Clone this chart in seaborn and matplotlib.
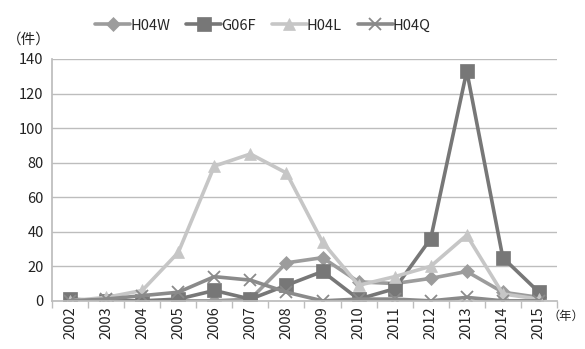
import numpy as np
import pandas as pd
import matplotlib
matplotlib.use("Agg")
import matplotlib.pyplot as plt
import seaborn as sns

years = [2002, 2003, 2004, 2005, 2006, 2007, 2008, 2009, 2010, 2011, 2012, 2013, 2014, 2015]
h04w = [0, 0, 0, 0, 0, 1, 22, 25, 11, 10, 13, 17, 5, 2]
g06f = [1, 0, 0, 1, 6, 1, 9, 17, 1, 7, 36, 133, 25, 5]
h04l = [0, 2, 6, 28, 78, 85, 74, 34, 9, 14, 20, 38, 4, 1]
h04q = [0, 1, 3, 5, 14, 12, 5, 0, 1, 1, 0, 2, 0, 0]

series_names = ["H04W", "G06F", "H04L", "H04Q"]
series_values = [h04w, g06f, h04l, h04q]
colors = ["#9c9c9c", "#777777", "#c6c6c6", "#8a8a8a"]
markers = ["D", "s", "^", "x"]
msizes = [7, 10, 9, 9]

sns.set_theme(style="white")
plt.rcParams["font.family"] = ["Noto Sans CJK JP", "DejaVu Sans"]

rows = []
for name, vals in zip(series_names, series_values):
    for i, v in enumerate(vals):
        rows.append({"pos": i, "year": years[i], "series": name, "value": v})
df = pd.DataFrame(rows)

fig = plt.figure(figsize=(5.85, 3.49), dpi=100)
ax = fig.add_axes([0.089, 0.138, 0.863, 0.693])

for name, col, mk, ms in zip(series_names, colors, markers, msizes):
    sub = df[df["series"] == name]
    sns.lineplot(data=sub, x="pos", y="value", ax=ax, color=col, linewidth=2.6,
                 marker=mk, markersize=ms, markeredgecolor=col,
                 markeredgewidth=1.3 if mk == "x" else 0.5, label=name)

ax.set_xlim(-0.5, len(years) - 0.5)
ax.set_ylim(0, 140)
ax.set_yticks(np.arange(0, 141, 20))
ax.yaxis.grid(True, color="#bdbdbd", linewidth=1)
ax.set_axisbelow(True)
ax.set_xticks(range(len(years)))
ax.set_xticklabels([str(y) for y in years], rotation=90, fontsize=10.5, color="#222222")
ax.set_xticks(np.arange(-0.5, len(years), 1), minor=True)
ax.tick_params(axis="x", which="major", length=0, pad=4)
ax.tick_params(axis="x", which="minor", length=5, color="#bdbdbd", width=1, direction="out", bottom=True)
ax.tick_params(axis="y", length=0, labelsize=10.5, labelcolor="#222222", pad=6)
ax.set_xlabel("")
ax.set_ylabel("")
for s in ["top", "right"]:
    ax.spines[s].set_visible(False)
ax.spines["left"].set_color("#bdbdbd")
ax.spines["bottom"].set_color("#bdbdbd")

ax.legend(loc="lower center", bbox_to_anchor=(0.418, 1.085), ncol=4, frameon=False,
          fontsize=10.5, handlelength=2.4, handletextpad=0.0, columnspacing=1.1,
          borderaxespad=0.0)

fig.text(0.012, 0.875, "（件）", fontsize=10.5, color="#222222")
fig.text(0.999, 0.085, "（年）", fontsize=8.8, color="#222222", ha="right")

fig.savefig("out.png", dpi=100)
